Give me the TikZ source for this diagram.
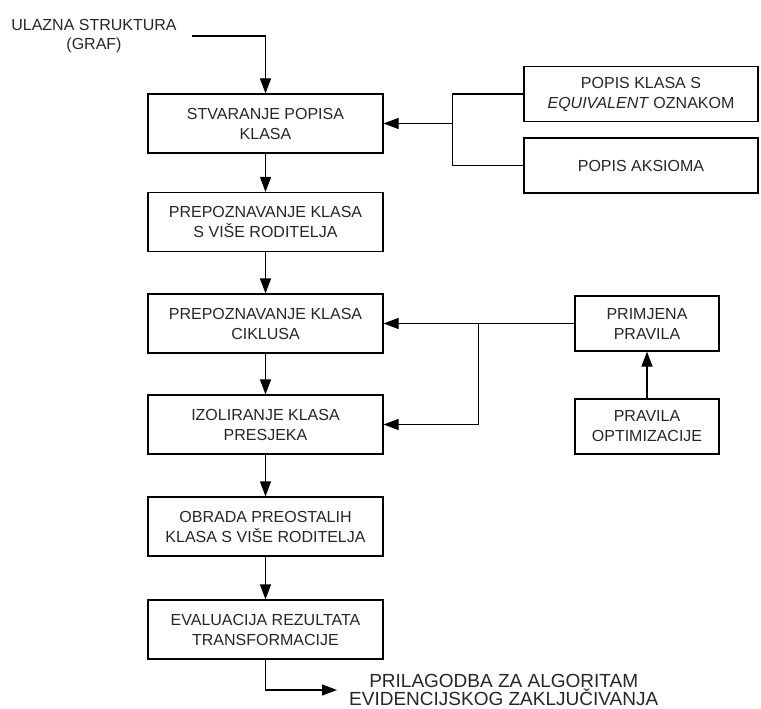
\documentclass[tikz,border=0pt]{standalone}
\usepackage{fontspec}
\setmainfont{Liberation Sans}
\usetikzlibrary{arrows.meta, positioning}

\begin{document}
\begin{tikzpicture}[x=1pt, y=-1pt, >={Triangle[length=15pt, width=11pt]},
  box/.style={rectangle, draw, line width=1.2pt, minimum width=235pt, minimum height=59pt,
    font=\fontsize{16}{20}\selectfont, align=center, inner sep=0pt, text=black!85},
  sidebox/.style={box, minimum width=234pt, minimum height=55pt},
  rulebox/.style={box, minimum width=144pt, minimum height=55pt},
  wire/.style={line width=1.2pt},
  link/.style={wire, ->}]
  \useasboundingbox (0,0) rectangle (761,709);

  \node[font=\fontsize{16}{19}\selectfont, align=center, inner xsep=15pt, text=black!85] (in) at (94,36) {ULAZNA STRUKTURA\\(GRAF)};

  \node[box] (b1) at (265.5,123.5) {STVARANJE POPISA\\KLASA};
  \node[box] (b2) at (265.5,222)   {PREPOZNAVANJE KLASA\\S VIŠE RODITELJA};
  \node[box] (b3) at (265.5,323.5) {PREPOZNAVANJE KLASA\\CIKLUSA};
  \node[box] (b4) at (265.5,424.5) {IZOLIRANJE KLASA\\PRESJEKA};
  \node[box] (b5) at (265.5,526.5) {OBRADA PREOSTALIH\\KLASA S VIŠE RODITELJA};
  \node[box] (b6) at (265.5,629.5) {EVALUACIJA REZULTATA\\TRANSFORMACIJE};

  \node[sidebox] (eq) at (641,94)    {POPIS KLASA S\\\textit{EQUIVALENT} OZNAKOM};
  \node[sidebox] (ax) at (641,165.5) {POPIS AKSIOMA};

  \node[rulebox] (pr) at (647,323.5) {PRIMJENA\\PRAVILA};
  \node[rulebox] (po) at (647,426.5) {PRAVILA\\OPTIMIZACIJE};

  \node[font=\fontsize{19}{18}\selectfont, align=center, anchor=west, inner xsep=12pt, inner ysep=1pt, text=black!85] (out) at (337,690) {PRILAGODBA ZA ALGORITAM\\EVIDENCIJSKOG ZAKLJUČIVANJA};

  % main flow
  \draw[link] (in.east) -| (b1.north);
  \foreach \a/\b in {b1/b2, b2/b3, b3/b4, b4/b5, b5/b6}
    \draw[link] (\a) -- (\b);
  \draw[link] (b6.south) |- (out.west);

  % inputs of the class list
  \draw[wire] (eq.west) -- ++(-71,0) coordinate (ja) |- (ax.west);
  \draw[link] (ja |- b1.east) -- (b1.east);

  % rules
  \draw[link] (po.north) -- (pr.south);
  \draw[wire] (pr.west) -- ++(-96,0) coordinate (jr);
  \draw[link] (jr) -- (b3.east);
  \draw[link] (jr) |- (b4.east);
\end{tikzpicture}
\end{document}
